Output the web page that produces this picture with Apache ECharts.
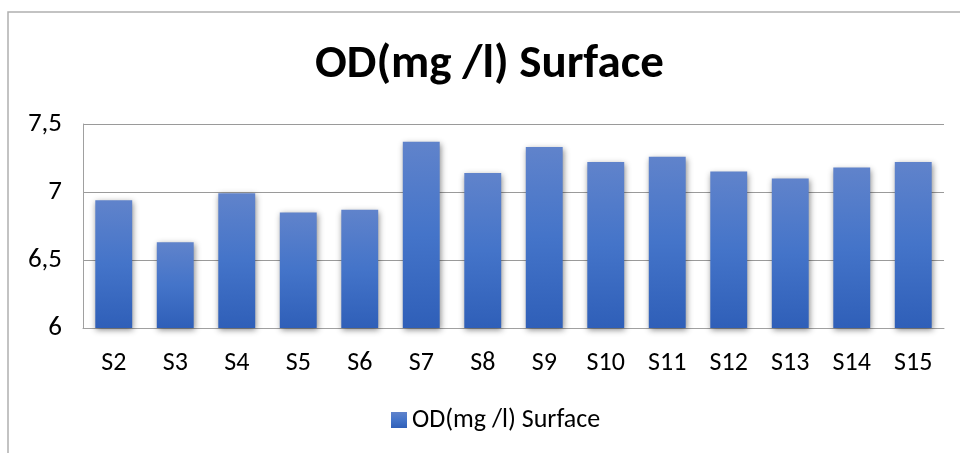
<!DOCTYPE html>
<html>
<head>
<meta charset="utf-8">
<script src="https://cdn.jsdelivr.net/npm/echarts@6/dist/echarts.min.js"></script>
<style>
  html, body { margin: 0; padding: 0; background: #fff; }
  #chart { width: 960px; height: 453px; }
</style>
</head>
<body>
<div id="chart"></div>
<script>
// Sampling stations and dissolved oxygen at the surface
const stations = ['S2', 'S3', 'S4', 'S5', 'S6', 'S7', 'S8', 'S9', 'S10', 'S11', 'S12', 'S13', 'S14', 'S15'];
const odSurface = [6.94, 6.63, 6.99, 6.85, 6.87, 7.37, 7.14, 7.33, 7.22, 7.26, 7.15, 7.10, 7.18, 7.22];
const seriesName = 'OD(mg /l) Surface';
const yTicks = { min: 6, max: 7.5, step: 0.5 };

const chart = echarts.init(document.getElementById('chart'));
const font = 'Carlito, "Liberation Sans", "DejaVu Sans", sans-serif';

chart.setOption({
  animation: false,
  backgroundColor: '#ffffff',
  title: {
    text: seriesName,
    left: 310,
    top: 37,
    textStyle: { fontFamily: font, fontSize: 47, fontWeight: 'bold', color: '#000' }
  },
  legend: {
    data: [seriesName],
    top: 402,
    left: 386,
    itemWidth: 16,
    itemHeight: 16,
    itemGap: 7,
    icon: 'rect',
    textStyle: { fontFamily: font, fontSize: 26, color: '#000' }
  },
  grid: { left: 83, right: 16, top: 124, bottom: 125, containLabel: false },
  xAxis: {
    type: 'category',
    data: stations,
    axisTick: { show: false },
    axisLine: { lineStyle: { color: '#a0a0a0', width: 1 } },
    axisLabel: { fontFamily: font, fontSize: 26, color: '#000', margin: 22 }
  },
  yAxis: {
    type: 'value',
    min: yTicks.min,
    max: yTicks.max,
    interval: yTicks.step,
    axisLine: { show: true, lineStyle: { color: '#a0a0a0', width: 1 } },
    axisTick: { show: false },
    splitLine: { lineStyle: { color: '#9a9a9a', width: 1.2 } },
    axisLabel: {
      fontFamily: font, fontSize: 27, color: '#000', margin: 21,
      formatter: v => String(v).replace('.', ',')
    }
  },
  graphic: [{
    type: 'rect',
    shape: { x: 8, y: 12, width: 1000, height: 500 },
    style: { fill: 'none', stroke: '#b0b0b0', lineWidth: 1.5 },
    silent: true,
    z: -1
  }],
  series: [{
    name: seriesName,
    type: 'bar',
    data: odSurface,
    barCategoryGap: '40%',
    itemStyle: {
      color: new echarts.graphic.LinearGradient(0, 0, 0, 1, [
        { offset: 0, color: '#6083cb' },
        { offset: 0.5, color: '#4474c9' },
        { offset: 1, color: '#2f5fb8' }
      ]),
      shadowColor: 'rgba(0,0,0,0.45)',
      shadowBlur: 6,
      shadowOffsetX: 1,
      shadowOffsetY: 2
    }
  }]
});
</script>
</body>
</html>
